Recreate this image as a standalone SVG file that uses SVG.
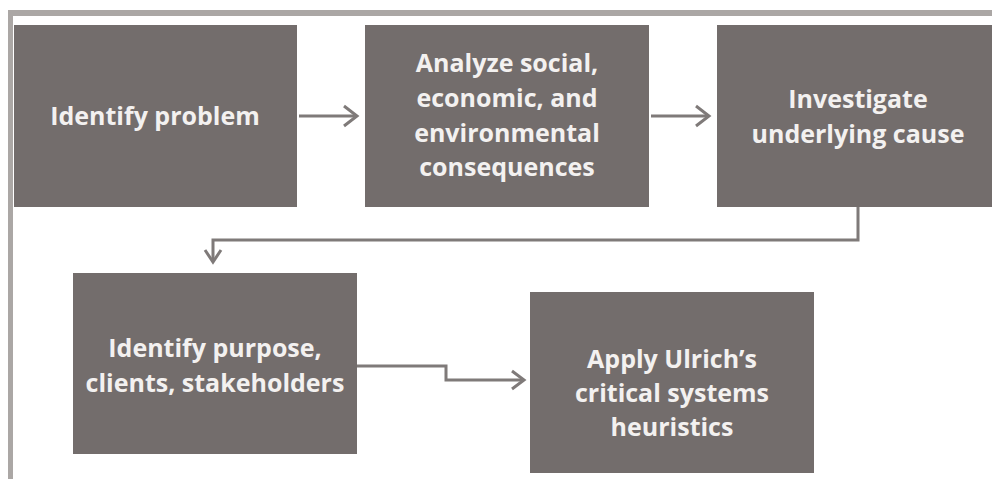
<svg xmlns="http://www.w3.org/2000/svg" width="992" height="479" viewBox="0 0 992 479">
  <style>
    .box { fill: #736d6c; }
    .label { font-family: "Open Sans", "Liberation Sans", sans-serif; font-weight: 700; font-size: 25px; fill: #f3f1f0; text-anchor: middle; }
    .wire { fill: none; stroke: #7f7a79; stroke-width: 3; }
    .head { fill: none; stroke: #7f7a79; stroke-width: 3; stroke-linejoin: miter; }
  </style>
  <rect width="992" height="479" fill="#ffffff"/>
  <!-- outer frame -->
  <g id="frame" fill="#aba7a5">
    <rect x="8" y="10" width="984" height="6"/>
    <rect x="8" y="10" width="5" height="469"/>
  </g>

  <g id="n1">
    <rect class="box" x="14" y="25" width="283" height="182"/>
    <text class="label" x="155" y="125">Identify problem</text>
  </g>
  <g id="n2">
    <rect class="box" x="365" y="25" width="284" height="182"/>
    <text class="label" x="507" y="72">Analyze social,</text>
    <text class="label" x="507" y="107">economic, and</text>
    <text class="label" x="507" y="142">environmental</text>
    <text class="label" x="507" y="176">consequences</text>
  </g>
  <g id="n3">
    <rect class="box" x="717" y="25" width="284" height="182"/>
    <text class="label" x="858" y="108">Investigate</text>
    <text class="label" x="858" y="143">underlying cause</text>
  </g>
  <g id="n4">
    <rect class="box" x="73" y="273" width="284" height="181"/>
    <text class="label" x="215" y="357">Identify purpose,</text>
    <text class="label" x="215" y="392">clients, stakeholders</text>
  </g>
  <g id="n5">
    <rect class="box" x="530" y="292" width="284" height="181"/>
    <text class="label" x="672" y="368">Apply Ulrich’s</text>
    <text class="label" x="672" y="402">critical systems</text>
    <text class="label" x="672" y="436">heuristics</text>
  </g>

  <g id="connectors">
    <path class="wire" d="M299 116 H356"/>
    <path class="head" d="M344 106 L357 116 L344 126"/>
    <path class="wire" d="M651 116 H708"/>
    <path class="head" d="M696 106 L709 116 L696 126"/>
    <path class="wire" d="M858 207 V240 H213 V261"/>
    <path class="head" d="M205 250 L213 262 L221 250"/>
    <path class="wire" d="M357 366 H446 V380 H523"/>
    <path class="head" d="M512 371 L524 380 L512 389"/>
  </g>
</svg>
